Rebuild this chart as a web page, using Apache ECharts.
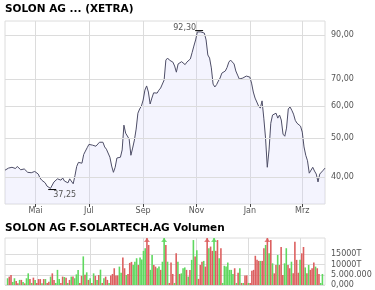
<!DOCTYPE html>
<html><head><meta charset="utf-8">
<script src="https://cdn.jsdelivr.net/npm/echarts@6/dist/echarts.min.js"></script>
<style>html,body{margin:0;padding:0;background:#fff}#c{width:375px;height:290px}</style>
</head><body><div id="c"></div>
<script>
// ---- data ----
const titlePrice = 'SOLON AG ... (XETRA)';
const titleVolume = 'SOLON AG F.SOLARTECH.AG Volumen';
const startDate = [2007, 2, 27];   // first sample (27 Mar 2007)
const endDate = [2008, 2, 27];
const stepDays = 2;                // one sample every 2 calendar days
const prices = [
 41.6,41.8,42.1,42.2,42.3,42.4,42.0,42.5,42.3,41.7,
 41.8,41.9,41.6,41.1,40.7,41.0,41.1,41.3,41.4,40.7,
 39.8,39.3,38.9,38.7,38.0,37.6,37.5,37.25,38.9,38.7,
 39.6,39.4,39.3,39.8,39.1,39.3,38.7,39.6,39.9,38.5,
 40.3,42.5,43.5,43.6,43.3,45.5,46.4,47.3,48.2,48.5,
 48.0,48.5,47.7,47.7,48.8,49.3,48.8,47.5,46.9,46.4,
 44.8,42.6,41.1,42.3,44.6,44.1,44.8,46.7,53.8,51.4,
 51.7,49.7,45.3,47.2,49.4,52.6,57.6,59.0,60.0,62.1,
 65.7,67.3,65.0,60.7,62.8,64.7,64.1,64.6,65.7,66.5,
 66.9,69.6,78.0,78.9,78.0,77.6,77.1,75.4,72.8,76.3,
 75.8,77.3,76.6,76.0,77.1,77.1,78.5,81.4,84.5,87.5,
 91.6,92.3,91.6,91.8,91.0,87.5,80.3,78.9,74.6,68.0,
 66.9,67.8,69.2,70.4,72.4,71.6,73.3,74.8,77.1,78.0,
 78.7,76.3,73.3,71.6,70.0,70.2,70.4,70.4,71.2,71.2,
 70.8,68.4,65.0,62.8,61.4,60.0,59.3,61.8,56.0,50.0,
 42.3,46.7,54.4,57.0,57.6,57.6,56.0,57.0,55.4,51.1,
 50.5,52.9,59.0,59.7,58.6,57.3,55.3,54.4,54.3,53.5,
 51.7,47.5,45.3,43.9,40.9,40.7,42.3,41.4,40.7,38.9,
 40.7,40.9,41.6,42.1
];
const volumesMio = [
 3.3,4.1,4.9,1.5,3.3,2.0,0.8,2.5,2.5,1.5,
 0.8,3.3,5.7,2.9,1.0,3.6,2.5,1.0,2.9,2.9,
 0.8,2.9,2.9,1.0,1.6,4.1,5.7,2.5,1.0,7.4,
 2.9,1.0,4.1,3.9,3.6,1.0,2.5,4.1,4.1,3.3,
 5.2,7.4,1.0,4.5,14.0,5.0,6.2,2.5,3.3,1.0,
 5.7,4.5,2.5,4.9,7.5,1.0,3.3,4.1,2.5,1.0,
 4.7,5.4,8.2,4.7,4.7,9.0,6.0,13.4,8.2,4.9,
 5.4,10.8,11.3,9.8,11.4,13.1,9.8,13.4,12.5,16.7,
 18.0,26,19.6,7.4,14.7,9.8,9.0,8.2,9.0,7.4,
 11.4,26,19.6,11.4,1.0,11.0,5.4,1.0,15.5,11.4,
 5.4,5.7,8.2,8.6,7.4,4.1,7.4,12.3,22.0,13.9,
 17.0,3.0,9.8,11.4,11.8,9.0,26,18.0,18.8,16.7,
 26,16.7,22.0,13.1,18.0,1.0,9.4,9.0,11.0,7.4,
 7.4,5.4,8.2,1.0,6.0,8.2,1.0,1.0,4.7,4.7,
 1.0,1.0,7.0,7.4,14.3,12.3,11.8,11.8,11.8,18.0,
 19.6,26,15.5,22.0,10.6,5.7,9.8,14.7,9.8,18.6,
 4.9,10.6,18.0,9.8,8.2,11.4,5.7,21.2,12.3,6.0,
 12.3,15.5,18.6,8.6,5.7,9.8,7.4,8.2,11.0,9.0,
 8.2,5.4,1.0,5.4
];
const volumeUp = [
 1,0,0,1,1,0,0,1,0,1, 0,1,1,0,1,0,1,0,0,0, 1,0,1,0,0,1,0,0,1,1,
 1,0,0,1,0,1,0,1,0,1, 1,1,0,0,1,0,1,0,1,0, 1,0,1,0,1,0,1,0,0,1,
 0,0,0,0,0,1,1,0,0,1, 0,0,0,1,1,1,0,1,1,1, 1,0,0,1,1,0,0,1,1,0,
 1,1,0,1,0,0,0,1,0,1, 0,1,1,1,0,1,0,1,1,0, 1,0,0,0,1,0,0,1,0,0,
 1,0,0,1,0,1,1,1,1,1, 1,1,0,1,0,1,0,1,0,0, 1,0,0,0,0,0,0,1,0,0,
 1,0,1,0,1,0,0,1,0,0, 0,1,1,0,0,1,0,0,0,0, 1,0,0,1,0,1,0,0,0,1,
 0,0,1,1
];
const priceTicks = [40, 50, 60, 70, 90];
const priceTickLabels = ['40,00', '50,00', '60,00', '70,00', '90,00'];
const monthTickDates = [[2007,4,1],[2007,6,1],[2007,8,1],[2007,10,1],[2008,0,1],[2008,2,1]];
const monthLabels = ['Mai', 'Jul', 'Sep', 'Nov', 'Jan', 'Mrz'];
const volumeTicks = [0, 5000000, 10000000, 15000000];
const volumeTickLabels = ['0,000', '5.000.000', '10000T', '15000T'];

// ---- chart ----
const DAY = 86400000;
const utc = d => Date.UTC(d[0], d[1], d[2]);
const t0 = utc(startDate);
const times = prices.map((_, i) => t0 + i * stepDays * DAY);
const monthTicks = monthTickDates.map(utc);
const FONT = 'DejaVu Sans';
const UP = '#5fd85f', DOWN = '#dc6060';
const GRIDC = '#dcdcdc';
const VOL_MAX = 23000000;

const monthFmt = v => {
  const k = monthTicks.findIndex(t => Math.abs(t - v) < DAY / 2);
  return k >= 0 ? monthLabels[k] : '';
};
const volFmt = v => {
  const k = volumeTicks.indexOf(v);
  return k >= 0 ? volumeTickLabels[k] : '';
};
const fmtPrice = v => v.toFixed(2).replace('.', ',');

const chart = echarts.init(document.getElementById('c'));
chart.setOption({
  animation: false,
  textStyle: { fontFamily: FONT },
  title: [
    { text: titlePrice, left: 5, top: 4, padding: 0,
      textStyle: { fontFamily: FONT, fontWeight: 'bold', fontSize: 10.5, color: '#000' } },
    { text: titleVolume, left: 5, top: 223, padding: 0,
      textStyle: { fontFamily: FONT, fontWeight: 'bold', fontSize: 10.5, color: '#000' } }
  ],
  grid: [
    { left: 5, top: 21, width: 320, height: 183, show: true, borderColor: GRIDC, borderWidth: 1, backgroundColor: 'transparent' },
    { left: 5, top: 238, width: 320, height: 47, show: true, borderColor: GRIDC, borderWidth: 1, backgroundColor: 'transparent' }
  ],
  xAxis: [
    { type: 'value', gridIndex: 0, min: t0, max: utc(endDate), scale: true,
      axisLine: { show: false },
      axisTick: { show: true, length: 3, customValues: monthTicks, lineStyle: { color: '#444' } },
      axisLabel: { customValues: monthTicks, formatter: monthFmt, fontSize: 8, color: '#555', margin: 3, fontFamily: FONT, hideOverlap: false },
      splitLine: { show: true, lineStyle: { color: GRIDC, width: 1 } } },
    { type: 'value', gridIndex: 1, min: utc([2007, 2, 24]), max: utc([2008, 2, 30]), scale: true,
      axisLine: { show: false },
      axisTick: { show: false, customValues: monthTicks },
      axisLabel: { show: false, customValues: monthTicks },
      splitLine: { show: true, lineStyle: { color: GRIDC, width: 1 } } }
  ],
  yAxis: [
    { type: 'log', gridIndex: 0, min: 34.3, max: 97.5, position: 'right',
      axisLine: { show: false }, axisTick: { show: false }, axisLabel: { show: false },
      splitLine: { show: false } },
    { type: 'value', gridIndex: 1, min: 0, max: VOL_MAX, interval: 5000000, position: 'right',
      axisLine: { show: false },
      axisTick: { show: false, customValues: volumeTicks },
      axisLabel: { customValues: volumeTicks, formatter: volFmt, fontSize: 8, color: '#555', margin: 6, fontFamily: FONT },
      splitLine: { show: true, lineStyle: { color: GRIDC, width: 1 } } }
  ],
  series: [
    { type: 'line', xAxisIndex: 0, yAxisIndex: 0,
      data: prices.map((p, i) => [times[i], p]),
      symbol: 'none', silent: true,
      lineStyle: { color: '#4d4d66', width: 1 },
      areaStyle: { color: 'rgba(205,205,250,0.32)', origin: 'start' },
      markLine: { silent: true, symbol: 'none', animation: false,
        lineStyle: { color: GRIDC, width: 1, type: 'solid' },
        label: { position: 'end', distance: 6, fontSize: 8, color: '#555', fontFamily: FONT },
        emphasis: { disabled: true },
        data: priceTicks.map((v, k) => ({ yAxis: v, label: { formatter: priceTickLabels[k] } })) },
      markPoint: { silent: true, symbol: 'rect', symbolSize: [8, 1], animation: false,
        itemStyle: { color: '#000' },
        data: [
          { type: 'max', label: { show: true, position: [1, 2], align: 'right', verticalAlign: 'bottom',
              formatter: p => fmtPrice(p.value), fontSize: 8, color: '#555', fontFamily: FONT } },
          { type: 'min', label: { show: true, position: [5, 2], align: 'left', verticalAlign: 'top',
              formatter: p => fmtPrice(p.value), fontSize: 8, color: '#555', fontFamily: FONT } }
        ] } },
    { type: 'bar', xAxisIndex: 1, yAxisIndex: 1, barWidth: 1.6, silent: true,
      data: volumesMio.map((v, i) => ({ value: [times[i], v * 1e6],
        itemStyle: { color: volumeUp[i] ? UP : DOWN } })) },
    { type: 'scatter', xAxisIndex: 1, yAxisIndex: 1, silent: true, z: 5,
      symbol: 'triangle', symbolSize: [6, 4], symbolOffset: [0, 2],
      data: volumesMio.map((v, i) => ({ v, i })).filter(o => o.v * 1e6 > VOL_MAX)
        .map(o => ({ value: [times[o.i], VOL_MAX], itemStyle: { color: volumeUp[o.i] ? UP : DOWN } })) }
  ]
});
</script>
</body></html>
